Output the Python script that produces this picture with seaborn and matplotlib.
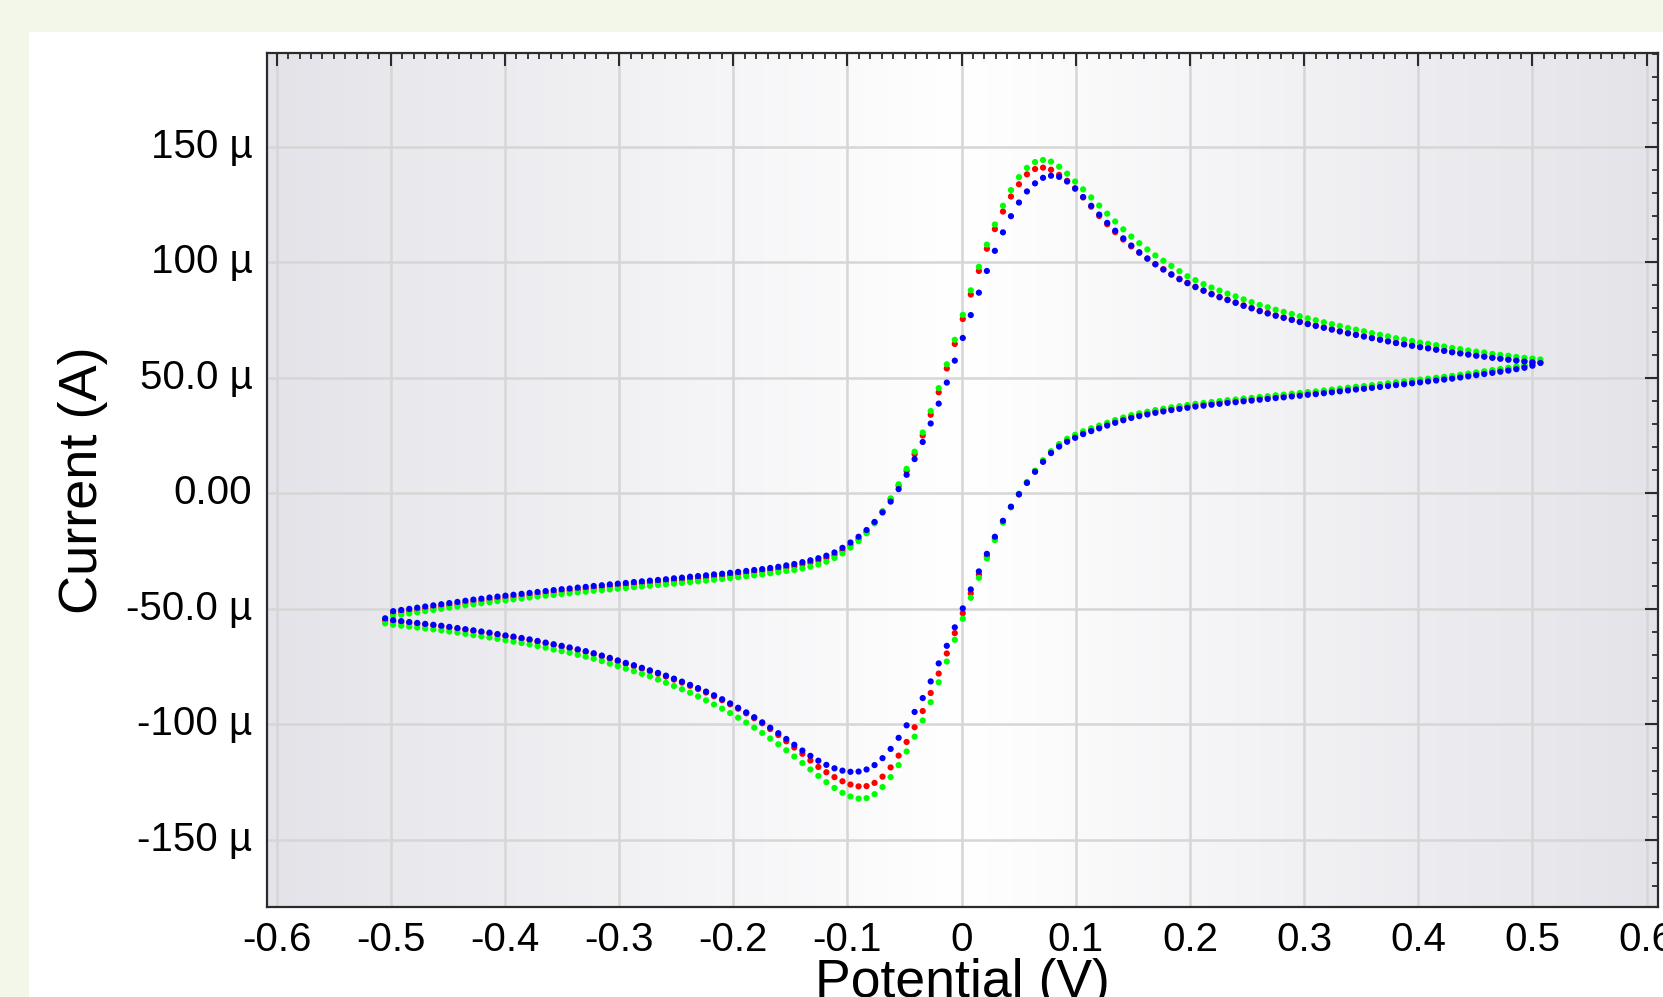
import numpy as np
import pandas as pd
import matplotlib
matplotlib.use("Agg")
import matplotlib.pyplot as plt
from matplotlib.patches import Rectangle
from matplotlib.ticker import MultipleLocator, FuncFormatter
import seaborn as sns

# Potential steps of the sweep (V)
potential = [
    -0.5050, -0.4980, -0.4909, -0.4839, -0.4769, -0.4699, -0.4628, -0.4558, -0.4488, -0.4417,
    -0.4347, -0.4277, -0.4207, -0.4136, -0.4066, -0.3996, -0.3926, -0.3855, -0.3785, -0.3715,
    -0.3644, -0.3574, -0.3504, -0.3434, -0.3363, -0.3293, -0.3223, -0.3152, -0.3082, -0.3012,
    -0.2942, -0.2871, -0.2801, -0.2731, -0.2660, -0.2590, -0.2520, -0.2450, -0.2379, -0.2309,
    -0.2239, -0.2169, -0.2098, -0.2028, -0.1958, -0.1887, -0.1817, -0.1747, -0.1677, -0.1606,
    -0.1536, -0.1466, -0.1395, -0.1325, -0.1255, -0.1185, -0.1114, -0.1044, -0.0974, -0.0903,
    -0.0833, -0.0763, -0.0693, -0.0622, -0.0552, -0.0482, -0.0412, -0.0341, -0.0271, -0.0201,
    -0.0130, -0.0060, 0.0010, 0.0080, 0.0151, 0.0221, 0.0291, 0.0362, 0.0432, 0.0502,
    0.0572, 0.0643, 0.0713, 0.0783, 0.0854, 0.0924, 0.0994, 0.1064, 0.1135, 0.1205,
    0.1275, 0.1345, 0.1416, 0.1486, 0.1556, 0.1627, 0.1697, 0.1767, 0.1837, 0.1908,
    0.1978, 0.2048, 0.2119, 0.2189, 0.2259, 0.2329, 0.2400, 0.2470, 0.2540, 0.2611,
    0.2681, 0.2751, 0.2821, 0.2892, 0.2962, 0.3032, 0.3102, 0.3173, 0.3243, 0.3313,
    0.3384, 0.3454, 0.3524, 0.3594, 0.3665, 0.3735, 0.3805, 0.3876, 0.3946, 0.4016,
    0.4086, 0.4157, 0.4227, 0.4297, 0.4368, 0.4438, 0.4508, 0.4578, 0.4649, 0.4719,
    0.4789, 0.4859, 0.4930, 0.5000, 0.5070,
]

# Forward (anodic) sweep currents, uA, one value per potential step
anodic_red = [
    -55.1, -52.0, -51.5, -51.0, -50.5, -50.0, -49.5, -49.0, -48.5, -48.0,
    -47.5, -47.0, -46.6, -46.1, -45.7, -45.3, -44.9, -44.5, -44.1, -43.7,
    -43.3, -42.9, -42.5, -42.2, -41.8, -41.5, -41.1, -40.8, -40.4, -40.1,
    -39.8, -39.4, -39.1, -38.8, -38.5, -38.2, -37.8, -37.5, -37.1, -36.8,
    -36.5, -36.1, -35.8, -35.4, -35.0, -34.6, -34.2, -33.8, -33.3, -32.8,
    -32.2, -31.6, -30.8, -30.0, -29.1, -28.0, -26.8, -24.8, -22.4, -19.8,
    -16.7, -12.7, -7.9, -2.6, 3.2, 9.7, 16.9, 25.0, 34.0, 43.7,
    54.0, 64.6, 75.4, 86.0, 96.2, 105.8, 114.3, 121.9, 128.4, 133.7,
    138.0, 140.3, 140.9, 140.0, 137.8, 135.2, 132.0, 128.0, 124.0, 120.0,
    116.4, 113.0, 109.8, 106.8, 104.0, 101.5, 99.1, 97.0, 94.8, 92.8,
    91.1, 89.4, 87.8, 86.3, 85.0, 83.8, 82.6, 81.3, 80.2, 79.0,
    78.0, 77.0, 76.1, 75.2, 74.3, 73.4, 72.6, 71.8, 71.0, 70.2,
    69.4, 68.7, 68.0, 67.3, 66.6, 65.9, 65.2, 64.6, 64.0, 63.4,
    62.9, 62.3, 61.8, 61.2, 60.7, 60.2, 59.7, 59.3, 58.8, 58.4,
    58.0, 57.6, 57.2, 56.9, 56.6,
]
anodic_green = [
    -56.3, -53.0, -52.5, -52.0, -51.5, -51.0, -50.5, -50.0, -49.5, -49.0,
    -48.5, -48.0, -47.6, -47.1, -46.7, -46.3, -45.9, -45.5, -45.1, -44.7,
    -44.3, -44.0, -43.6, -43.3, -42.9, -42.6, -42.2, -41.9, -41.6, -41.3,
    -41.0, -40.6, -40.3, -40.0, -39.7, -39.4, -39.1, -38.8, -38.4, -38.1,
    -37.8, -37.4, -37.1, -36.7, -36.3, -35.9, -35.5, -35.1, -34.6, -34.1,
    -33.6, -33.2, -32.5, -31.7, -30.8, -29.6, -28.0, -26.0, -23.5, -20.7,
    -17.3, -13.0, -7.8, -2.2, 3.9, 10.6, 18.0, 26.3, 35.6, 45.5,
    55.8, 66.4, 77.2, 87.8, 98.0, 107.6, 116.3, 124.4, 131.2, 136.8,
    140.8, 143.3, 144.2, 143.5, 141.3, 138.3, 134.9, 131.5, 128.0, 124.5,
    121.0, 117.6, 114.2, 111.1, 108.2, 105.5, 102.9, 100.6, 98.4, 96.1,
    93.9, 92.2, 90.5, 89.0, 87.7, 86.4, 85.2, 83.9, 82.7, 81.5,
    80.5, 79.4, 78.5, 77.6, 76.6, 75.7, 74.9, 74.0, 73.2, 72.4,
    71.5, 70.8, 70.1, 69.3, 68.6, 67.9, 67.1, 66.5, 65.9, 65.2,
    64.7, 64.1, 63.5, 62.9, 62.4, 61.8, 61.3, 60.9, 60.3, 59.9,
    59.5, 59.0, 58.6, 58.3, 57.9,
]
anodic_blue = [
    -54.1, -51.0, -50.5, -50.0, -49.5, -49.0, -48.5, -48.0, -47.5, -47.0,
    -46.5, -46.0, -45.6, -45.1, -44.7, -44.3, -43.9, -43.5, -43.1, -42.7,
    -42.3, -41.9, -41.5, -41.2, -40.8, -40.5, -40.1, -39.8, -39.4, -39.1,
    -38.8, -38.4, -38.1, -37.8, -37.5, -37.2, -36.8, -36.5, -36.1, -35.8,
    -35.5, -35.1, -34.8, -34.4, -34.0, -33.6, -33.2, -32.8, -32.3, -31.8,
    -31.2, -30.6, -29.8, -29.0, -28.1, -27.0, -25.6, -23.6, -21.3, -18.8,
    -15.9, -12.4, -8.3, -3.6, 1.8, 8.0, 14.8, 22.2, 30.2, 38.8,
    47.9, 57.4, 67.2, 77.1, 86.8, 96.2, 104.9, 112.9, 119.9, 125.8,
    130.6, 134.1, 136.5, 137.4, 136.9, 134.9, 131.8, 128.2, 124.4, 120.6,
    117.0, 113.6, 110.3, 107.2, 104.3, 101.6, 99.1, 96.8, 94.6, 92.6,
    90.9, 89.2, 87.6, 86.1, 84.8, 83.6, 82.4, 81.1, 80.0, 78.8,
    77.8, 76.8, 75.9, 75.0, 74.1, 73.2, 72.4, 71.6, 70.8, 70.0,
    69.2, 68.5, 67.8, 67.1, 66.4, 65.7, 65.0, 64.4, 63.8, 63.2,
    62.7, 62.1, 61.6, 61.0, 60.5, 60.0, 59.5, 59.1, 58.6, 58.2,
    57.8, 57.4, 57.0, 56.7, 56.4,
]

# Return (cathodic) sweep currents, uA, for the inner potential steps
cathodic_red = [
    -55.3, -55.7, -56.1, -56.5, -56.9, -57.3, -57.7, -58.2, -58.7, -59.2,
    -59.7, -60.2, -60.7, -61.3, -61.9, -62.4, -63.0, -63.6, -64.3, -65.0,
    -65.7, -66.4, -67.1, -67.9, -68.7, -69.6, -70.6, -71.6, -72.7, -73.8,
    -74.8, -75.9, -77.0, -78.1, -79.3, -80.6, -81.9, -83.3, -84.7, -86.2,
    -87.8, -89.5, -91.3, -93.2, -95.2, -97.3, -99.5, -102.0, -104.6, -107.3,
    -110.0, -112.7, -115.6, -118.4, -120.7, -122.8, -124.6, -126.0, -126.8, -126.7,
    -125.3, -122.6, -118.6, -113.5, -107.6, -101.2, -94.2, -86.4, -78.0, -69.3,
    -60.5, -51.9, -43.3, -35.2, -27.3, -19.7, -12.5, -6.0, -0.5, 4.6,
    9.5, 13.9, 17.8, 20.8, 23.0, 24.7, 26.3, 27.6, 28.8, 30.0,
    31.2, 32.3, 33.3, 34.1, 34.8, 35.5, 36.1, 36.7, 37.2, 37.7,
    38.2, 38.6, 39.0, 39.4, 39.8, 40.1, 40.5, 40.8, 41.2, 41.5,
    41.9, 42.2, 42.6, 42.9, 43.3, 43.6, 44.0, 44.4, 44.8, 45.2,
    45.6, 45.9, 46.3, 46.7, 47.1, 47.5, 47.9, 48.3, 48.7, 49.1,
    49.5, 49.9, 50.3, 50.8, 51.3, 51.8, 52.3, 52.8, 53.3, 53.8,
    54.4, 55.0, 55.9,
]
cathodic_green = [
    -56.9, -57.3, -57.7, -58.1, -58.5, -58.9, -59.3, -59.8, -60.3, -60.8,
    -61.4, -61.9, -62.4, -63.0, -63.6, -64.2, -64.8, -65.4, -66.1, -66.8,
    -67.6, -68.3, -69.0, -69.9, -70.7, -71.6, -72.6, -73.7, -74.8, -75.9,
    -77.0, -78.1, -79.2, -80.6, -82.0, -83.4, -84.8, -86.3, -87.9, -89.6,
    -91.4, -93.2, -95.1, -97.1, -99.2, -101.4, -103.7, -106.1, -108.6, -111.2,
    -113.9, -116.7, -119.5, -122.3, -125.0, -127.5, -129.6, -131.2, -132.1, -131.9,
    -130.2, -127.1, -122.8, -117.6, -111.7, -105.3, -98.3, -90.4, -81.8, -72.8,
    -63.4, -54.3, -45.2, -36.6, -28.2, -20.3, -12.6, -6.0, -0.2, 4.9,
    9.8, 14.3, 18.2, 21.3, 23.6, 25.3, 26.8, 28.1, 29.3, 30.5,
    31.7, 32.8, 33.8, 34.6, 35.3, 36.0, 36.6, 37.2, 37.7, 38.2,
    38.7, 39.1, 39.5, 39.9, 40.3, 40.6, 41.0, 41.3, 41.7, 42.0,
    42.4, 42.7, 43.1, 43.4, 43.8, 44.1, 44.5, 44.9, 45.3, 45.7,
    46.1, 46.4, 46.8, 47.2, 47.6, 48.0, 48.4, 48.8, 49.2, 49.6,
    50.0, 50.4, 50.8, 51.3, 51.8, 52.3, 52.8, 53.3, 53.8, 54.3,
    54.9, 55.5, 56.4,
]
cathodic_blue = [
    -54.9, -55.3, -55.7, -56.1, -56.5, -56.9, -57.3, -57.8, -58.3, -58.8,
    -59.3, -59.8, -60.3, -60.9, -61.5, -62.0, -62.6, -63.2, -63.9, -64.6,
    -65.3, -66.0, -66.7, -67.5, -68.3, -69.2, -70.2, -71.2, -72.3, -73.4,
    -74.4, -75.5, -76.6, -77.7, -78.9, -80.2, -81.5, -82.9, -84.3, -85.8,
    -87.4, -89.1, -90.9, -92.8, -94.8, -96.9, -99.1, -101.4, -103.8, -106.3,
    -108.8, -111.3, -113.6, -115.7, -117.5, -119.0, -120.0, -120.5, -120.4, -119.5,
    -117.6, -114.6, -110.6, -105.8, -100.4, -94.6, -88.6, -81.4, -73.6, -66.0,
    -58.0, -49.8, -41.6, -33.8, -26.2, -18.8, -11.9, -5.8, -0.4, 4.5,
    9.3, 13.6, 17.4, 20.2, 22.3, 24.0, 25.6, 26.9, 28.1, 29.3,
    30.5, 31.6, 32.6, 33.4, 34.1, 34.8, 35.4, 36.0, 36.5, 37.0,
    37.5, 37.9, 38.3, 38.7, 39.1, 39.4, 39.8, 40.1, 40.5, 40.8,
    41.2, 41.5, 41.9, 42.2, 42.6, 42.9, 43.3, 43.7, 44.1, 44.5,
    44.9, 45.2, 45.6, 46.0, 46.4, 46.8, 47.2, 47.6, 48.0, 48.4,
    48.8, 49.2, 49.6, 50.1, 50.6, 51.1, 51.6, 52.1, 52.6, 53.1,
    53.7, 54.3, 55.2,
]

trace_colors = {"red": "#ff0000", "green": "#00ff00", "blue": "#0000ff"}
x_ticks_step, x_minor_step = 0.1, 0.01
y_ticks_step, y_minor_step = 50e-6, 10e-6

sns.set_theme(style="white")
plt.rcParams["font.family"] = ["Liberation Sans", "DejaVu Sans"]
plt.rcParams["axes.unicode_minus"] = False

# Long-form table: red first, green, then blue on top
frames = []
for name, fwd, rev in (("red", anodic_red, cathodic_red),
                       ("green", anodic_green, cathodic_green),
                       ("blue", anodic_blue, cathodic_blue)):
    frames.append(pd.DataFrame({"Potential": potential,
                                "Current": np.asarray(fwd) * 1e-6,
                                "trace": name}))
    frames.append(pd.DataFrame({"Potential": potential[1:-1],
                                "Current": np.asarray(rev) * 1e-6,
                                "trace": name}))
cv = pd.concat(frames, ignore_index=True)

W, H = 1663, 997
fig = plt.figure(figsize=(W / 100, H / 100), dpi=100, facecolor="#f3f7ea")
fig.patches.append(Rectangle((29 / W, 0), 1 - 29 / W, (H - 32) / H,
                             transform=fig.transFigure, facecolor="white",
                             edgecolor="none", zorder=-10))
ax = fig.add_axes([267 / W, (H - 907) / H, (1658 - 267) / W, (907 - 53) / H])

xlim = (-0.6085, 0.6100)
ylim = (-179e-6, 190.5e-6)

# soft grey-to-white-to-grey plot background
t = np.abs(np.linspace(-1, 1, 600))
edge = np.array([0.890, 0.890, 0.914])
center = np.array([1.0, 1.0, 1.0])
shade = center + (edge - center) * t[:, None]
ax.imshow(shade[None, :, :], extent=(xlim[0], xlim[1], ylim[0], ylim[1]),
          aspect="auto", zorder=0, interpolation="bilinear")

sns.scatterplot(data=cv, x="Potential", y="Current", hue="trace",
                palette=trace_colors, s=20, linewidth=0, legend=False,
                ax=ax, zorder=3)

ax.set_xlim(*xlim)
ax.set_ylim(*ylim)
ax.set_axisbelow(True)

ax.xaxis.set_major_locator(MultipleLocator(x_ticks_step))
ax.xaxis.set_minor_locator(MultipleLocator(x_minor_step))
ax.yaxis.set_major_locator(MultipleLocator(y_ticks_step))
ax.yaxis.set_minor_locator(MultipleLocator(y_minor_step))


def volt_label(v, pos):
    if abs(v) < 1e-9:
        return "0"
    return f"{v:.1f}"


def amp_label(v, pos):
    u = v * 1e6
    if abs(u) < 1e-6:
        return "0.00"
    a = abs(u)
    if a >= 99.95:
        s = f"{u:.0f}"
    elif a >= 9.995:
        s = f"{u:.1f}"
    else:
        s = f"{u:.2f}"
    return s + " \u00b5"


ax.xaxis.set_major_formatter(FuncFormatter(volt_label))
ax.yaxis.set_major_formatter(FuncFormatter(amp_label))

ax.grid(True, which="major", color="#d6d6d6", linewidth=1.8)
ax.tick_params(which="both", direction="in", top=True, right=True,
               color="#2b2b2b", labelcolor="black", labelsize=29)
ax.tick_params(axis="x", which="major", length=9.5, width=1.5, pad=10)
ax.tick_params(axis="y", which="major", length=9.5, width=1.5, pad=10.5)
ax.tick_params(which="minor", length=4.5, width=1.3)
for lbl in ax.get_yticklabels():
    lbl.set_verticalalignment("center")
for sp in ax.spines.values():
    sp.set_color("#2b2b2b")
    sp.set_linewidth(1.6)

ax.set_xlabel("Potential (V)", fontsize=38.5, color="black")
ax.set_ylabel("Current (A)", fontsize=39, color="black")
ax.xaxis.set_label_coords(0.5, -0.0597)
ax.yaxis.set_label_coords(-0.114, 0.5)

fig.savefig("out.png", dpi=100, facecolor=fig.get_facecolor())
